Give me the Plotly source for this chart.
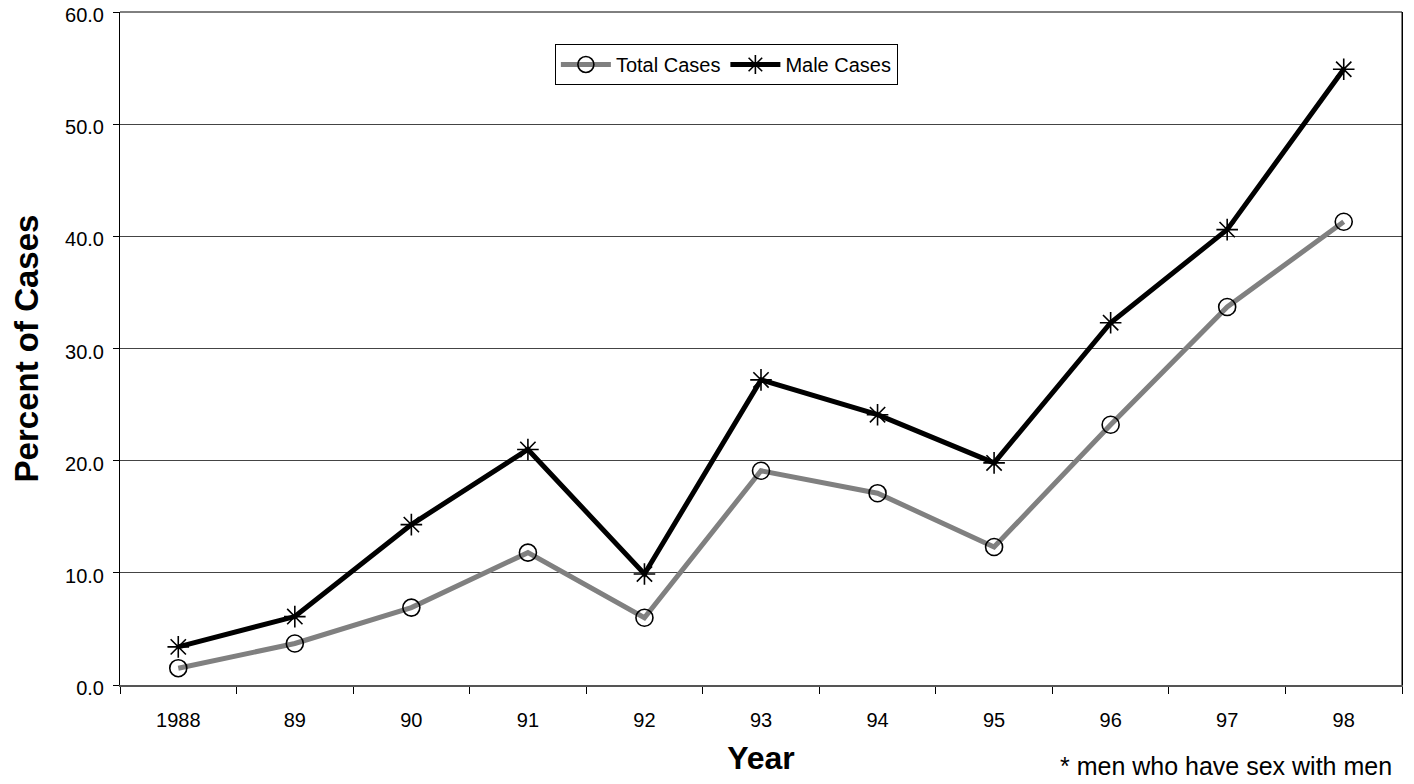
import plotly.graph_objects as go

years = ["1988", "89", "90", "91", "92", "93", "94", "95", "96", "97", "98"]
total_cases = [1.5, 3.7, 6.9, 11.8, 6.0, 19.1, 17.1, 12.3, 23.2, 33.7, 41.3]
male_cases = [3.4, 6.1, 14.3, 21.0, 9.9, 27.2, 24.1, 19.8, 32.3, 40.6, 54.9]

fig = go.Figure()
fig.add_trace(go.Scatter(
    x=years, y=total_cases, name="Total Cases", mode="lines+markers",
    line=dict(color="#808080", width=5),
    marker=dict(symbol="circle-open", size=17, color="black", line=dict(width=1.6, color="black")),
))
fig.add_trace(go.Scatter(
    x=years, y=male_cases, name="Male Cases", mode="lines+markers",
    line=dict(color="black", width=5),
    marker=dict(symbol="asterisk-open", size=18, color="black", line=dict(width=1.6, color="black")),
))

# page body has an 8px margin; figure sized so the page fits the window
fig.update_layout(
    width=1398, height=768,
    margin=dict(l=112, r=4, t=4, b=91),
    paper_bgcolor="white", plot_bgcolor="white",
    font=dict(family="Liberation Sans, Arial, sans-serif", size=20, color="black"),
    showlegend=True,
    legend=dict(
        orientation="h", x=0.473, y=0.922, xanchor="center", yanchor="middle",
        bordercolor="black", borderwidth=1, bgcolor="white",
        font=dict(size=20), tracegroupgap=0, itemwidth=50,
    ),
    xaxis=dict(
        type="category", range=[-0.5, 10.5], automargin=False,
        tickson="boundaries", ticks="outside", ticklen=7, tickcolor="black",
        ticklabelstandoff=16,
        showline=True, linecolor="#555555", linewidth=2, mirror=False,
        showgrid=False, zeroline=False,
        title=dict(text="<b>Year</b>", font=dict(size=32), standoff=26),
        tickfont=dict(size=20),
    ),
    yaxis=dict(
        range=[0, 60], dtick=10, tickformat=".1f", automargin=False,
        ticks="outside", ticklen=6, tickcolor="black",
        ticklabelstandoff=5, ticklabeloverflow="allow", ticklabelshift=3,
        showline=True, linecolor="black", linewidth=1, mirror=True,
        showgrid=True, gridcolor="#444444", gridwidth=1, zeroline=False,
        title=dict(text="<b>Percent of Cases</b>", font=dict(size=33), standoff=22),
        tickfont=dict(size=20),
    ),
    annotations=[dict(
        text="* men who have sex with men", xref="paper", yref="paper",
        x=0.994, y=-0.1205, xanchor="right", yanchor="middle", showarrow=False,
        font=dict(size=25),
    )],
)
fig.add_shape(type="line", xref="paper", yref="paper", x0=1, x1=1, y0=0, y1=1,
              line=dict(color="black", width=1))
fig.add_shape(type="line", xref="paper", yref="paper", x0=0, x1=1, y0=1, y1=1,
              line=dict(color="black", width=1))

fig.write_html("out.html")
